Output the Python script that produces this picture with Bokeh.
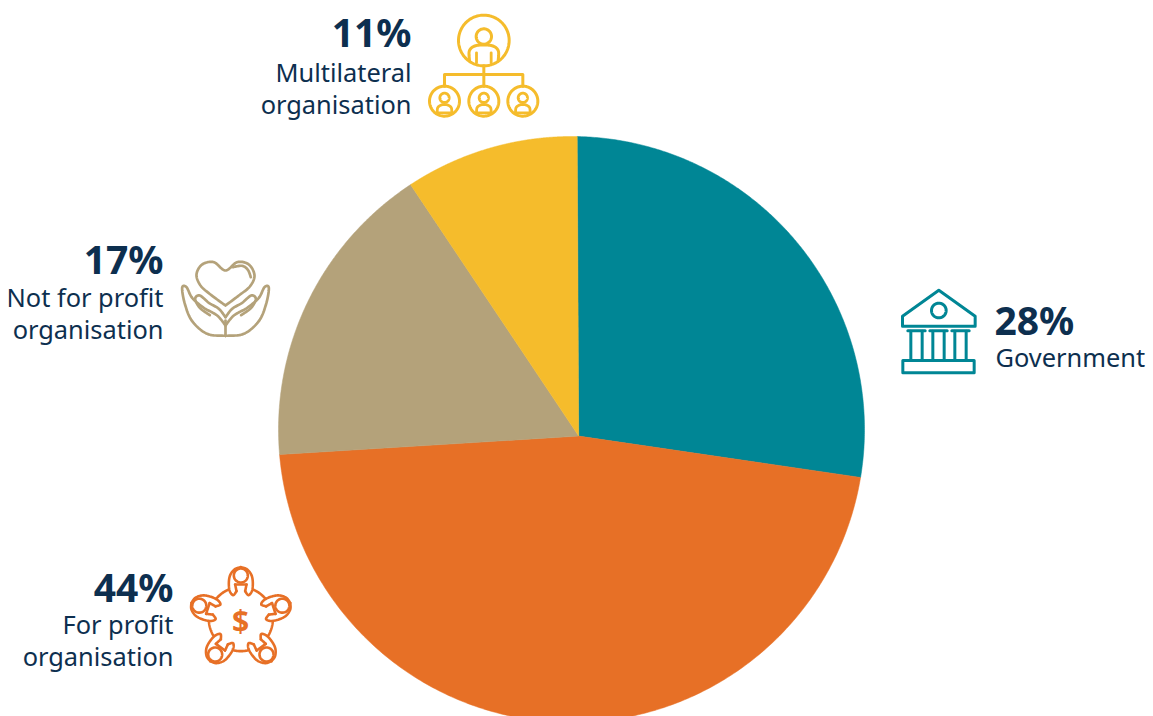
import numpy as np
from bokeh.plotting import figure
from bokeh.models import ColumnDataSource
from bokeh.core.properties import value
from bokeh.embed import file_html
from bokeh.resources import INLINE

categories = ["Government", "For profit organisation", "Not for profit organisation", "Multilateral organisation"]
printed_percent = ["28%", "44%", "17%", "11%"]
slice_share = [27.4, 46.7, 16.6, 9.3]
slice_colors = ["#008695", "#E77026", "#B4A27A", "#F5BC2C"]
INK = "#0D2F4F"
FONT = "Noto Sans"

p = figure(width=1153, height=716, x_range=(0, 1153), y_range=(716, 0),
           output_backend="svg", toolbar_location=None, min_border=0,
           background_fill_color="white", border_fill_color="white", outline_line_color=None)
p.axis.visible = False
p.grid.visible = False

# pie: slices meet at an off-centre apex inside the circle
CX, CY, R = 571.0, 429.0, 293.0
AX, AY = 578.2, 435.6
START = -0.005

def rim(theta):
    dx, dy = np.sin(theta), -np.cos(theta)
    ox, oy = AX - CX, AY - CY
    b = ox * dx + oy * dy
    c = ox * ox + oy * oy - R * R
    t = -b + np.sqrt(b * b - c)
    return AX + t * dx, AY + t * dy

edges = START + np.cumsum([0.0] + slice_share) / sum(slice_share) * 2 * np.pi
xs, ys = [], []
for a, b in zip(edges[:-1], edges[1:]):
    th = np.linspace(a, b, 240)
    rx, ry = rim(th)
    xs.append(np.r_[AX, rx].tolist())
    ys.append(np.r_[AY, ry].tolist())
p.patches("xs", "ys", source=ColumnDataSource(dict(xs=xs, ys=ys, c=slice_colors)),
          fill_color="c", line_color="c", line_width=0.5)

# text
def txt(x, y, s, size, align, bold=False):
    p.text([x], [y], text=[s], text_font=value(FONT), text_font_size=f"{size}px",
           text_font_style="bold" if bold else "normal", text_color=INK,
           text_align=align, text_baseline="alphabetic")

BIG, SMALL = 39, 25.4
txt(994, 319, printed_percent[0], BIG, "left", True)
txt(995, 356, "Government", SMALL, "left")
txt(173, 586, printed_percent[1], BIG, "right", True)
txt(173, 623, "For profit", SMALL, "right")
txt(173, 655, "organisation", SMALL, "right")
txt(163, 258, printed_percent[2], BIG, "right", True)
txt(163, 296, "Not for profit", SMALL, "right")
txt(163, 328, "organisation", SMALL, "right")
txt(411, 31, printed_percent[3], BIG, "right", True)
txt(411, 71, "Multilateral", SMALL, "right")
txt(411, 103, "organisation", SMALL, "right")

# icon helpers: coordinates in units of 1/3 px relative to an origin
def smooth(pts, n=12):
    pts = np.array(pts, float)
    P = np.vstack([pts[0], pts, pts[-1]])
    out = []
    for i in range(1, len(P) - 2):
        for t in np.linspace(0, 1, n, endpoint=False):
            out.append(0.5 * ((2 * P[i]) + (-P[i-1] + P[i+1]) * t
                       + (2*P[i-1] - 5*P[i] + 4*P[i+1] - P[i+2]) * t*t
                       + (-P[i-1] + 3*P[i] - 3*P[i+1] + P[i+2]) * t**3))
    out.append(P[-2])
    return np.array(out)

def stroke(org, pts, col, lw=2.6, curve=False):
    a = smooth(pts) if curve else np.array(pts, float)
    p.line(org[0] + a[:, 0] / 3, org[1] + a[:, 1] / 3, line_color=col, line_width=lw,
           line_join="round", line_cap="round")

def ring(org, cx, cy, r, col, lw=2.6, a0=0.0, a1=2 * np.pi):
    t = np.linspace(a0, a1, 90)
    stroke(org, np.c_[cx + r * np.cos(t), cy + r * np.sin(t)], col, lw)

# multilateral icon
o = (420, 5); c = slice_colors[3]
ring(o, 190, 105, 76, c, 3)
ring(o, 190, 93, 23, c, 3)
stroke(o, [(147, 166), (147, 135), (168, 120), (212, 120), (233, 135), (233, 166)], c, 3, True)
stroke(o, [(168, 142), (168, 172)], c, 2.8)
stroke(o, [(212, 142), (212, 172)], c, 2.8)
stroke(o, [(190, 181), (190, 242)], c, 3)
stroke(o, [(72, 242), (72, 207), (307, 207), (307, 242)], c, 3)
for mx in (72, 190, 307):
    ring(o, mx, 287, 45, c, 3)
    ring(o, mx, 277, 14, c, 2.8)
    stroke(o, [(mx - 22, 322), (mx - 20, 306), (mx - 8, 298), (mx + 8, 298), (mx + 20, 306), (mx + 22, 322)], c, 2.8, True)
    stroke(o, [(mx - 22, 322), (mx + 22, 322)], c, 2.8)

# heart-and-hands icon
o = (170, 250); c = slice_colors[2]
stroke(o, [(165, 165), (120, 132), (90, 105), (78, 72), (95, 42), (130, 35), (165, 60),
           (200, 35), (235, 42), (252, 75), (238, 108), (205, 135), (165, 165)], c, 2.7, True)
stroke(o, [(187, 50), (215, 46), (232, 58), (241, 80)], c, 2.7, True)
for sgn in (-1, 1):
    f = lambda pts: [(165 + sgn * (165 - x), y) for x, y in pts]
    stroke(o, f([(165, 256), (110, 250), (65, 212), (43, 160), (35, 112), (48, 110), (65, 142),
                 (100, 172), (140, 195), (165, 225)]), c, 2.7, True)
    stroke(o, f([(118, 194), (88, 172), (74, 145), (88, 135), (115, 157), (145, 175), (165, 200)]), c, 2.7, True)
stroke(o, [(165, 210), (165, 256)], c, 2.7)

# for-profit icon
o = (180, 560); c = slice_colors[1]
mx0, my0 = 181, 176
def rot(pts, k):
    a = 2 * np.pi * k / 5
    ca, sa = np.cos(a), np.sin(a)
    return [(mx0 + x * ca - y * sa, my0 + x * sa + y * ca) for x, y in pts]
for k in range(5):
    hx, hy = rot([(0, -131)], k)[0]
    ring(o, hx, hy, 21, c, 2.6)
    for s in (-1, 1):
        stroke(o, rot([(s * 13, -84), (s * 23, -72), (s * 33, -84), (s * 36, -108), (s * 32, -132), (s * 18, -150), (0, -156)], k), c, 2.6, True)
        stroke(o, rot([(s * 13, -84), (s * 17, -104)], k), c, 2.6, True)
    stroke(o, rot([(-17, -104), (17, -104)], k), c, 2.6)
    ang = np.linspace(-90 + 23, -90 + 49, 20) * np.pi / 180 + 2 * np.pi * k / 5
    stroke(o, np.c_[mx0 + 96 * np.cos(ang), my0 + 96 * np.sin(ang)], c, 2.6)
p.text([240], [620], text=["$"], text_font=value(FONT), text_font_size="30px", text_font_style="bold",
       text_color=c, text_align="center", text_baseline="middle")

# government icon
o = (890, 280); c = slice_colors[0]
stroke(o, [(36, 107), (145, 29), (254, 107), (254, 137), (36, 137), (36, 107)], c, 3)
ring(o, 145, 90, 22, c, 3)
for a, b in ((52, 104), (118, 170), (184, 236)):
    stroke(o, [(a, 151), (b, 151)], c, 3)
    stroke(o, [(a + 9, 152), (a + 9, 238)], c, 3)
    stroke(o, [(b - 9, 152), (b - 9, 238)], c, 3)
stroke(o, [(37, 240), (251, 240), (251, 277), (37, 277), (37, 240)], c, 3)

open("out.html", "w").write(file_html(p, INLINE))
